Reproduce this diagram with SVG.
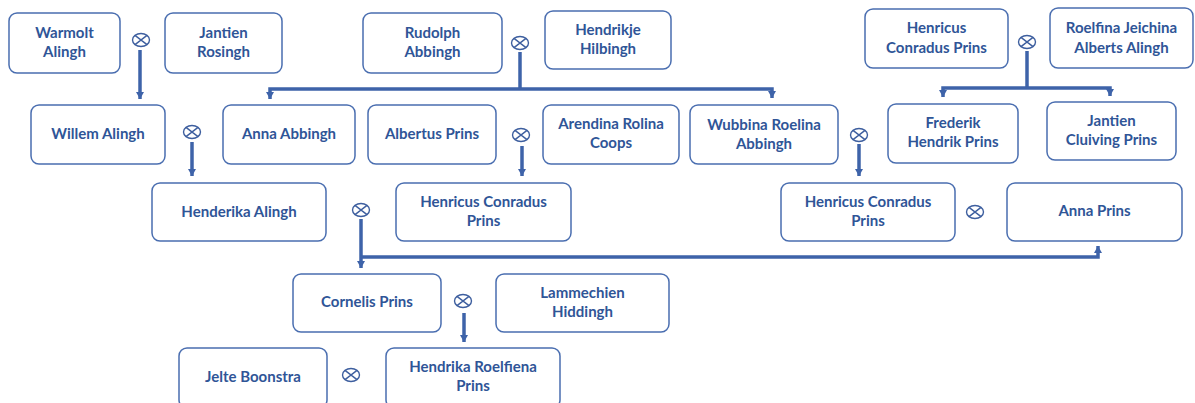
<svg xmlns="http://www.w3.org/2000/svg" xmlns:xlink="http://www.w3.org/1999/xlink" width="1195" height="403" viewBox="0 0 1195 403">
<style>
.box{fill:#ffffff;stroke:#4a6eb0;stroke-width:1.5}
.lbl{font-family:Lato,"Open Sans","Liberation Sans",sans-serif;font-weight:bold;font-size:15px;fill:#2f5597;text-anchor:middle}
.con{fill:none;stroke:#3e63a9;stroke-width:3.5}
.orc{fill:#ffffff;stroke:#3e5f9f;stroke-width:1.4}
</style>
<defs>
<marker id="ah" markerUnits="userSpaceOnUse" markerWidth="10" markerHeight="8" viewBox="0 0 10 8" refX="7" refY="4" orient="auto">
<path d="M0,0 L7,4 L0,8 z" fill="#3e63a9"/>
</marker>
<g id="or">
<ellipse class="orc" cx="0" cy="0" rx="8.5" ry="6.5"/>
<path class="orc" d="M-6,-4.6 L6,4.6 M-6,4.6 L6,-4.6" fill="none"/>
</g>
</defs>
<rect width="1195" height="403" fill="#ffffff"/>

<g id="connectors">
<path class="con" d="M140,50 V99" marker-end="url(#ah)"/>
<path class="con" d="M192,142 V176" marker-end="url(#ah)"/>
<path class="con" d="M520,52 V89"/>
<path class="con" d="M520,89 H270 V99" marker-end="url(#ah)"/>
<path class="con" d="M520,89 H772 V98" marker-end="url(#ah)"/>
<path class="con" d="M522,146 V176" marker-end="url(#ah)"/>
<path class="con" d="M1027,51 V88"/>
<path class="con" d="M1027,88 H943 V97" marker-end="url(#ah)"/>
<path class="con" d="M1027,88 H1110 V96" marker-end="url(#ah)"/>
<path class="con" d="M859,144 V176" marker-end="url(#ah)"/>
<path class="con" d="M361,219 V268" marker-end="url(#ah)"/>
<path class="con" d="M361,257 H1098 V246" marker-end="url(#ah)"/>
<path class="con" d="M464,313 V342" marker-end="url(#ah)"/>
</g>

<g id="marriages">
<use xlink:href="#or" x="141" y="40"/>
<use xlink:href="#or" x="192" y="132"/>
<use xlink:href="#or" x="361" y="210"/>
<use xlink:href="#or" x="520" y="43"/>
<use xlink:href="#or" x="521" y="135"/>
<use xlink:href="#or" x="1027" y="42"/>
<use xlink:href="#or" x="859" y="135"/>
<use xlink:href="#or" x="975" y="212"/>
<use xlink:href="#or" x="463" y="301"/>
<use xlink:href="#or" x="351" y="375"/>
</g>

<g id="n-warmolt"><rect class="box" x="9" y="13" width="111" height="60" rx="8"/><text class="lbl" x="64.5" y="38">Warmolt</text><text class="lbl" x="64.5" y="57">Alingh</text></g>
<g id="n-jantien-rosingh"><rect class="box" x="165" y="13" width="117" height="60" rx="8"/><text class="lbl" x="223.5" y="38">Jantien</text><text class="lbl" x="223.5" y="57">Rosingh</text></g>
<g id="n-rudolph"><rect class="box" x="363" y="13" width="139" height="60" rx="8"/><text class="lbl" x="432.5" y="38">Rudolph</text><text class="lbl" x="432.5" y="57">Abbingh</text></g>
<g id="n-hendrikje"><rect class="box" x="545" y="11" width="126" height="58" rx="8"/><text class="lbl" x="608" y="35">Hendrikje</text><text class="lbl" x="608" y="54">Hilbingh</text></g>
<g id="n-henricus-top"><rect class="box" x="865" y="9" width="143" height="59" rx="8"/><text class="lbl" x="936.5" y="33">Henricus</text><text class="lbl" x="936.5" y="53">Conradus Prins</text></g>
<g id="n-roelfina"><rect class="box" x="1050" y="8" width="143" height="60" rx="8"/><text class="lbl" x="1121.5" y="33">Roelfina Jeichina</text><text class="lbl" x="1121.5" y="53">Alberts Alingh</text></g>

<g id="n-willem"><rect class="box" x="31" y="105" width="134" height="59" rx="8"/><text class="lbl" x="98" y="139">Willem Alingh</text></g>
<g id="n-anna-abbingh"><rect class="box" x="223" y="105" width="132" height="59" rx="8"/><text class="lbl" x="289" y="139">Anna Abbingh</text></g>
<g id="n-albertus"><rect class="box" x="368" y="105" width="128" height="59" rx="8"/><text class="lbl" x="432" y="139">Albertus Prins</text></g>
<g id="n-arendina"><rect class="box" x="543" y="105" width="136" height="59" rx="8"/><text class="lbl" x="611" y="129">Arendina Rolina</text><text class="lbl" x="611" y="148">Coops</text></g>
<g id="n-wubbina"><rect class="box" x="690" y="105" width="148" height="59" rx="8"/><text class="lbl" x="764" y="130">Wubbina Roelina</text><text class="lbl" x="764" y="149">Abbingh</text></g>
<g id="n-frederik"><rect class="box" x="888" y="104" width="130" height="59" rx="8"/><text class="lbl" x="953" y="128">Frederik</text><text class="lbl" x="953" y="147">Hendrik Prins</text></g>
<g id="n-jantien-cluiving"><rect class="box" x="1047" y="102" width="129" height="58" rx="8"/><text class="lbl" x="1111.5" y="126">Jantien</text><text class="lbl" x="1111.5" y="145">Cluiving Prins</text></g>

<g id="n-henderika"><rect class="box" x="152" y="183" width="174" height="58" rx="8"/><text class="lbl" x="239" y="217">Henderika Alingh</text></g>
<g id="n-henricus-mid"><rect class="box" x="396" y="183" width="175" height="58" rx="8"/><text class="lbl" x="483.5" y="207">Henricus Conradus</text><text class="lbl" x="483.5" y="226">Prins</text></g>
<g id="n-henricus-right"><rect class="box" x="781" y="183" width="174" height="58" rx="8"/><text class="lbl" x="868" y="207">Henricus Conradus</text><text class="lbl" x="868" y="226">Prins</text></g>
<g id="n-anna-prins"><rect class="box" x="1007" y="183" width="175" height="58" rx="8"/><text class="lbl" x="1094.5" y="216">Anna Prins</text></g>

<g id="n-cornelis"><rect class="box" x="293" y="274" width="148" height="58" rx="8"/><text class="lbl" x="367" y="307">Cornelis Prins</text></g>
<g id="n-lammechien"><rect class="box" x="496" y="274" width="173" height="58" rx="8"/><text class="lbl" x="582.5" y="298">Lammechien</text><text class="lbl" x="582.5" y="317">Hiddingh</text></g>
<g id="n-jelte"><rect class="box" x="179" y="348" width="148" height="60" rx="8"/><text class="lbl" x="253" y="382">Jelte Boonstra</text></g>
<g id="n-hendrika"><rect class="box" x="386" y="348" width="174" height="60" rx="8"/><text class="lbl" x="473" y="372">Hendrika Roelfiena</text><text class="lbl" x="473" y="391">Prins</text></g>
</svg>
